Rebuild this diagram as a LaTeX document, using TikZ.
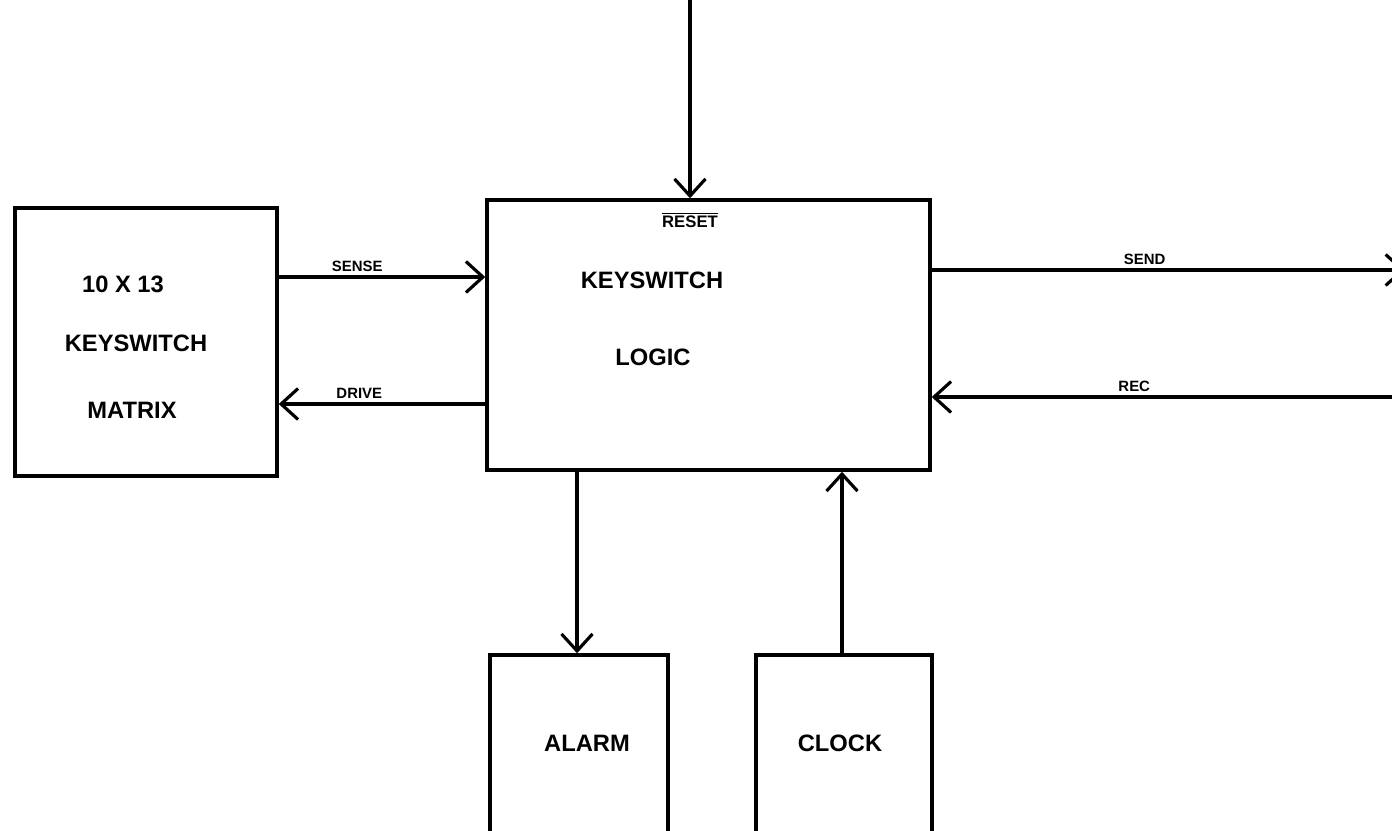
\documentclass[tikz,border=0pt]{standalone}
\usepackage{amsmath}
\usepackage{fontspec}
\setmainfont{Liberation Sans}
\usetikzlibrary{arrows.meta,positioning}

\begin{document}
\begin{tikzpicture}[x=0.02cm,y=-0.02cm,
    box/.style={draw,line width=2pt,inner sep=0pt},
    lbl/.style={inner sep=0pt,font=\bfseries\fontsize{13.5}{14}\selectfont},
    sig/.style={above,inner sep=2pt,font=\bfseries\fontsize{8.5}{9}\selectfont},
    >={Straight Barb[length=0.34cm,width=0.62cm]},
    line width=1.8pt]
    \useasboundingbox (0,0) rectangle (1392,831);
    \clip (0,0) rectangle (1392,831);
    % blocks
    \node[box,minimum width=5.24cm,minimum height=5.36cm] (M) at (146,342) {};
    \node[box,minimum width=8.86cm,minimum height=5.4cm] (L) at (708.5,335) {};
    \node[box,minimum width=3.56cm,minimum height=4.9cm] (A) at (579,777.5) {};
    \node[box,minimum width=3.52cm,minimum height=4.9cm] (C) at (844,777.5) {};
    % block texts
    \node[lbl] (M1) at (123,284) {10 X 13};
    \node[lbl] (M2) at (136,343) {KEYSWITCH};
    \node[lbl] (M3) at (132,410) {MATRIX};
    \node[lbl] (L1) at (652,280) {KEYSWITCH};
    \node[lbl] (L2) at (653,357) {LOGIC};
    \node[lbl] (A1) at (587,743) {ALARM};
    \node[lbl] (C1) at (840,743) {CLOCK};
    \node[inner sep=0pt,font=\bfseries\fontsize{9.5}{10}\selectfont] (R) at (690,220) {$\overline{\text{RESET}}$};
    % free ends
    \coordinate (top) at (690,0);
    \coordinate (snd) at (1405,270);
    \coordinate (rec) at (1392,397);
    % signals
    \draw[->] (top) to (top |- L.north);
    \draw[->] (M.east |- 0,277) to node[sig,pos=0.38]{SENSE} (L.west |- 0,277);
    \draw[->] (L.west |- 0,404) to node[sig,pos=0.61]{DRIVE} (M.east |- 0,404);
    \draw[->] (L.east |- snd) to node[sig,pos=0.45]{SEND} (snd);
    \draw[->] (rec) to node[sig,pos=0.56]{REC} (L.east |- rec);
    \draw[->] (L.south -| 577,0) to (A.north -| 577,0);
    \draw[->] (C.north -| 842,0) to (L.south -| 842,0);
\end{tikzpicture}
\end{document}
